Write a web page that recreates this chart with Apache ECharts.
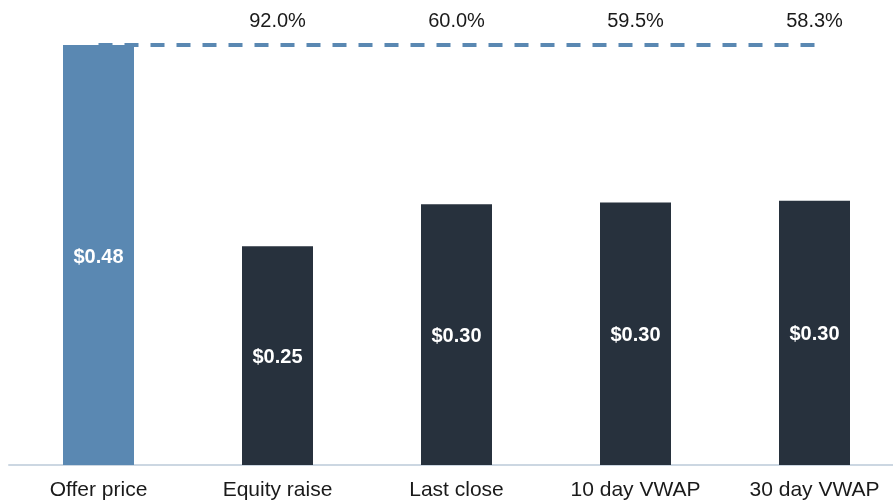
<!DOCTYPE html>
<html>
<head>
<meta charset="utf-8">
<script src="https://cdn.jsdelivr.net/npm/echarts@6/dist/echarts.min.js"></script>
<style>
  html, body { margin: 0; padding: 0; background: #fff; }
  #chart { width: 893px; height: 502px; }
</style>
</head>
<body>
<div id="chart"></div>
<script>
    var categories = ['Offer price', 'Equity raise', 'Last close', '10 day VWAP', '30 day VWAP'];
    var prices = [0.48, 0.25, 0.298, 0.300, 0.302];
    var priceLabels = ['$0.48', '$0.25', '$0.30', '$0.30', '$0.30'];
    // premium of offer price over each reference price
    var premiumLabels = ['', '92.0%', '60.0%', '59.5%', '58.3%'];
    var offerLine = [0.48, 0.48, 0.48, 0.48, 0.48];

    var barColors = ['#5a88b2', '#27313d', '#27313d', '#27313d', '#27313d'];

    var chart = echarts.init(document.getElementById('chart'));

    var option = {
        animation: false,
        grid: {
            left: 9,
            top: 45,
            bottom: 37,
            width: 895,
            outerBoundsMode: 'none'
        },
        xAxis: {
            type: 'category',
            data: categories,
            axisLine: {
                show: true,
                lineStyle: { color: '#ccd7e2', width: 2 }
            },
            axisTick: { show: false },
            axisLabel: {
                color: '#1a1a1a',
                fontSize: 21,
                fontFamily: 'Liberation Sans, Arial, sans-serif',
                margin: 15
            }
        },
        yAxis: {
            type: 'value',
            min: 0,
            max: 0.48,
            show: false,
            splitLine: { show: false }
        },
        series: [{
            name: 'Price',
            type: 'bar',
            barWidth: 71,
            data: prices.map(function(v, i) {
                return {
                    value: v,
                    itemStyle: { color: barColors[i] }
                };
            }),
            label: {
                show: true,
                position: 'inside',
                offset: [0, 2],
                color: '#fff',
                fontWeight: 'bold',
                fontSize: 20,
                fontFamily: 'Liberation Sans, Arial, sans-serif',
                formatter: function(p) {
                    return priceLabels[p.dataIndex];
                }
            },
            z: 2
        }, {
            name: 'Offer',
            type: 'line',
            data: offerLine,
            symbol: 'circle',
            symbolSize: 0,
            showSymbol: true,
            itemStyle: { color: '#5a88b2' },
            lineStyle: {
                color: '#5a88b2',
                width: 4,
                type: [14, 12]
            },
            label: {
                show: true,
                position: 'top',
                distance: 14,
                color: '#1a1a1a',
                fontSize: 20,
                fontFamily: 'Liberation Sans, Arial, sans-serif',
                formatter: function(p) {
                    return premiumLabels[p.dataIndex];
                }
            },
            labelLayout: { hideOverlap: false },
            z: 1
        }]
    };

    chart.setOption(option);
</script>
</body>
</html>
